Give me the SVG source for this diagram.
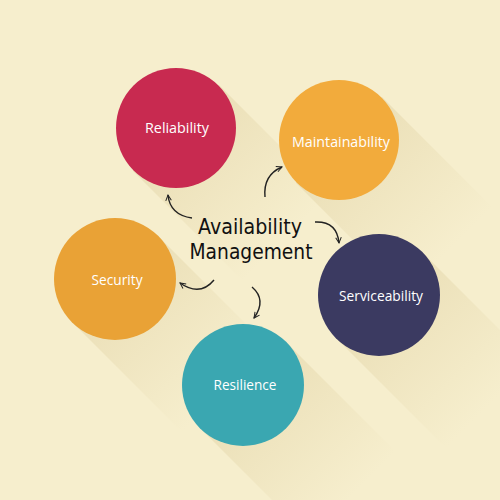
<svg xmlns="http://www.w3.org/2000/svg" width="500" height="500" viewBox="0 0 500 500">
<defs>
<linearGradient id="shg" gradientUnits="userSpaceOnUse" x1="0" y1="0" x2="110" y2="110">
<stop offset="0" stop-color="#e6d9ae" stop-opacity="0.7"/>
<stop offset="1" stop-color="#e6d9ae" stop-opacity="0"/>
</linearGradient>
<path id="sh" d="M43,-43 L-43,43 L67,153 L153,67 Z" fill="url(#shg)"/>
<marker id="ah" viewBox="0 0 10 10" refX="9" refY="5" markerWidth="7" markerHeight="7" orient="auto" markerUnits="userSpaceOnUse">
<path d="M1,1 L9,5 L1,9" fill="none" stroke="#222" stroke-width="1.4"/>
</marker>
<style>
.lbl{font-family:"Open Sans",Lato,sans-serif;font-size:14px;fill:#ffffff;text-anchor:middle;font-weight:400}
.ttl{font-family:"DejaVu Sans","Noto Sans",sans-serif;font-size:22px;fill:#111111;text-anchor:middle;font-weight:400}
.arr{fill:none;stroke:#222;stroke-width:1.4;marker-end:url(#ah)}
</style>
</defs>
<rect width="500" height="500" fill="#f6eecd"/>
<g id="shadows">
<use href="#sh" transform="translate(176,128)"/>
<use href="#sh" transform="translate(339,140)"/>
<use href="#sh" transform="translate(379,295)"/>
<use href="#sh" transform="translate(243,385)"/>
<use href="#sh" transform="translate(115,279)"/>
</g>
<g id="reliability">
<circle cx="176" cy="128" r="60" fill="#c82a50"/>
<text class="lbl" x="177" y="133" textLength="64" lengthAdjust="spacingAndGlyphs">Reliability</text>
</g>
<g id="maintainability">
<circle cx="339" cy="140" r="60" fill="#f2ab3c"/>
<text class="lbl" x="341" y="147" textLength="98" lengthAdjust="spacingAndGlyphs">Maintainability</text>
</g>
<g id="serviceability">
<circle cx="379" cy="295" r="61" fill="#3b3a61"/>
<text class="lbl" x="381" y="301" textLength="84" lengthAdjust="spacingAndGlyphs">Serviceability</text>
</g>
<g id="resilience">
<circle cx="243" cy="385" r="61" fill="#3aa7b1"/>
<text class="lbl" x="245" y="390" textLength="63" lengthAdjust="spacingAndGlyphs">Resilience</text>
</g>
<g id="security">
<circle cx="115" cy="279" r="61" fill="#e9a236"/>
<text class="lbl" x="117" y="285" textLength="51" lengthAdjust="spacingAndGlyphs">Security</text>
</g>
<g id="center">
<text class="ttl" x="250" y="234" textLength="104" lengthAdjust="spacingAndGlyphs">Availability</text>
<text class="ttl" x="251" y="259" textLength="123" lengthAdjust="spacingAndGlyphs">Management</text>
</g>
<g id="connectors">
<path class="arr" d="M192,218 Q170,215 168,195"/>
<path class="arr" d="M265,197 Q263,175 282,167"/>
<path class="arr" d="M315,222 Q337,221 339,243"/>
<path class="arr" d="M252,287 Q267,300 254,318"/>
<path class="arr" d="M214,280 Q200,297 180,283"/>
</g>
</svg>
